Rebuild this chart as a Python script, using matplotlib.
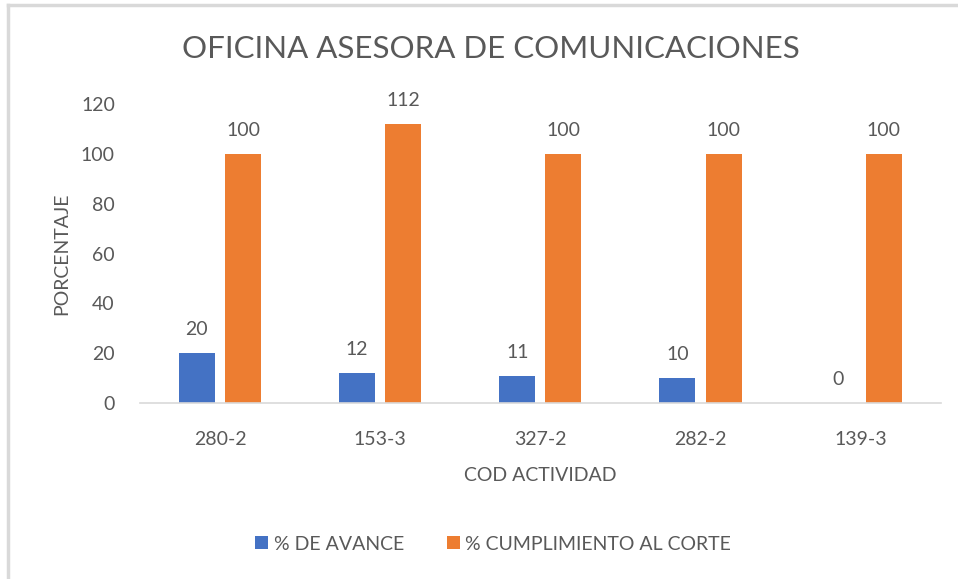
import matplotlib.pyplot as plt
import numpy as np
from matplotlib.lines import Line2D

categories = ["280-2", "153-3", "327-2", "282-2", "139-3"]
avance = [20, 12, 11, 10, 0]
cumplimiento = [100, 112, 100, 100, 100]

BLUE = "#4472C4"
ORANGE = "#ED7D31"
GREY = "#595959"

plt.rcParams['font.family'] = ['Lato', 'DejaVu Sans']

fig = plt.figure(figsize=(9.58, 5.79), dpi=100)
ax = fig.add_axes([0.146, 0.304, 0.836, 0.516])

x = np.arange(len(categories))
w = 0.225
off = 0.144
b1 = ax.bar(x - off, avance, w, color=BLUE, label="% DE AVANCE")
b2 = ax.bar(x + off, cumplimiento, w, color=ORANGE, label="% CUMPLIMIENTO AL CORTE")

for bars, vals in ((b1, avance), (b2, cumplimiento)):
    for r, v in zip(bars, vals):
        ax.text(r.get_x() + r.get_width() / 2, v + 6, str(v), ha='center', va='bottom',
                fontsize=14, color=GREY)

ax.set_xlim(-0.5, len(categories) - 0.5)
ax.set_ylim(0, 120)
ax.set_yticks(range(0, 121, 20))
ax.set_xticks(x)
ax.set_xticklabels(categories)
ax.tick_params(axis='both', length=0, labelsize=14, colors=GREY)
ax.tick_params(axis='y', pad=18)
ax.tick_params(axis='x', pad=20)
for s in ('top', 'right', 'left'):
    ax.spines[s].set_visible(False)
ax.spines['bottom'].set_color('#D9D9D9')
ax.spines['bottom'].set_linewidth(1.2)

ax.set_xlabel("COD ACTIVIDAD", fontsize=14, color=GREY, labelpad=14)
ax.set_ylabel("PORCENTAJE", fontsize=14, color=GREY, labelpad=8)
fig.text(0.512, 0.915, "OFICINA ASESORA DE COMUNICACIONES", ha='center', va='center',
         fontsize=22.5, color=GREY)

fig.legend(handles=[b1, b2], loc='center', bbox_to_anchor=(0.515, 0.06), ncol=2,
           frameon=False, fontsize=14, labelcolor=GREY, handlelength=0.65,
           handleheight=0.65, handletextpad=0.3, columnspacing=2.2)

# light frame on top and left edge
fig.add_artist(Line2D([0.008, 1], [0.991, 0.991], color='#D9D9D9', lw=2.5, transform=fig.transFigure))
fig.add_artist(Line2D([0.008, 0.008], [0, 0.991], color='#D9D9D9', lw=2.5, transform=fig.transFigure))

fig.savefig("out.png", dpi=100)
